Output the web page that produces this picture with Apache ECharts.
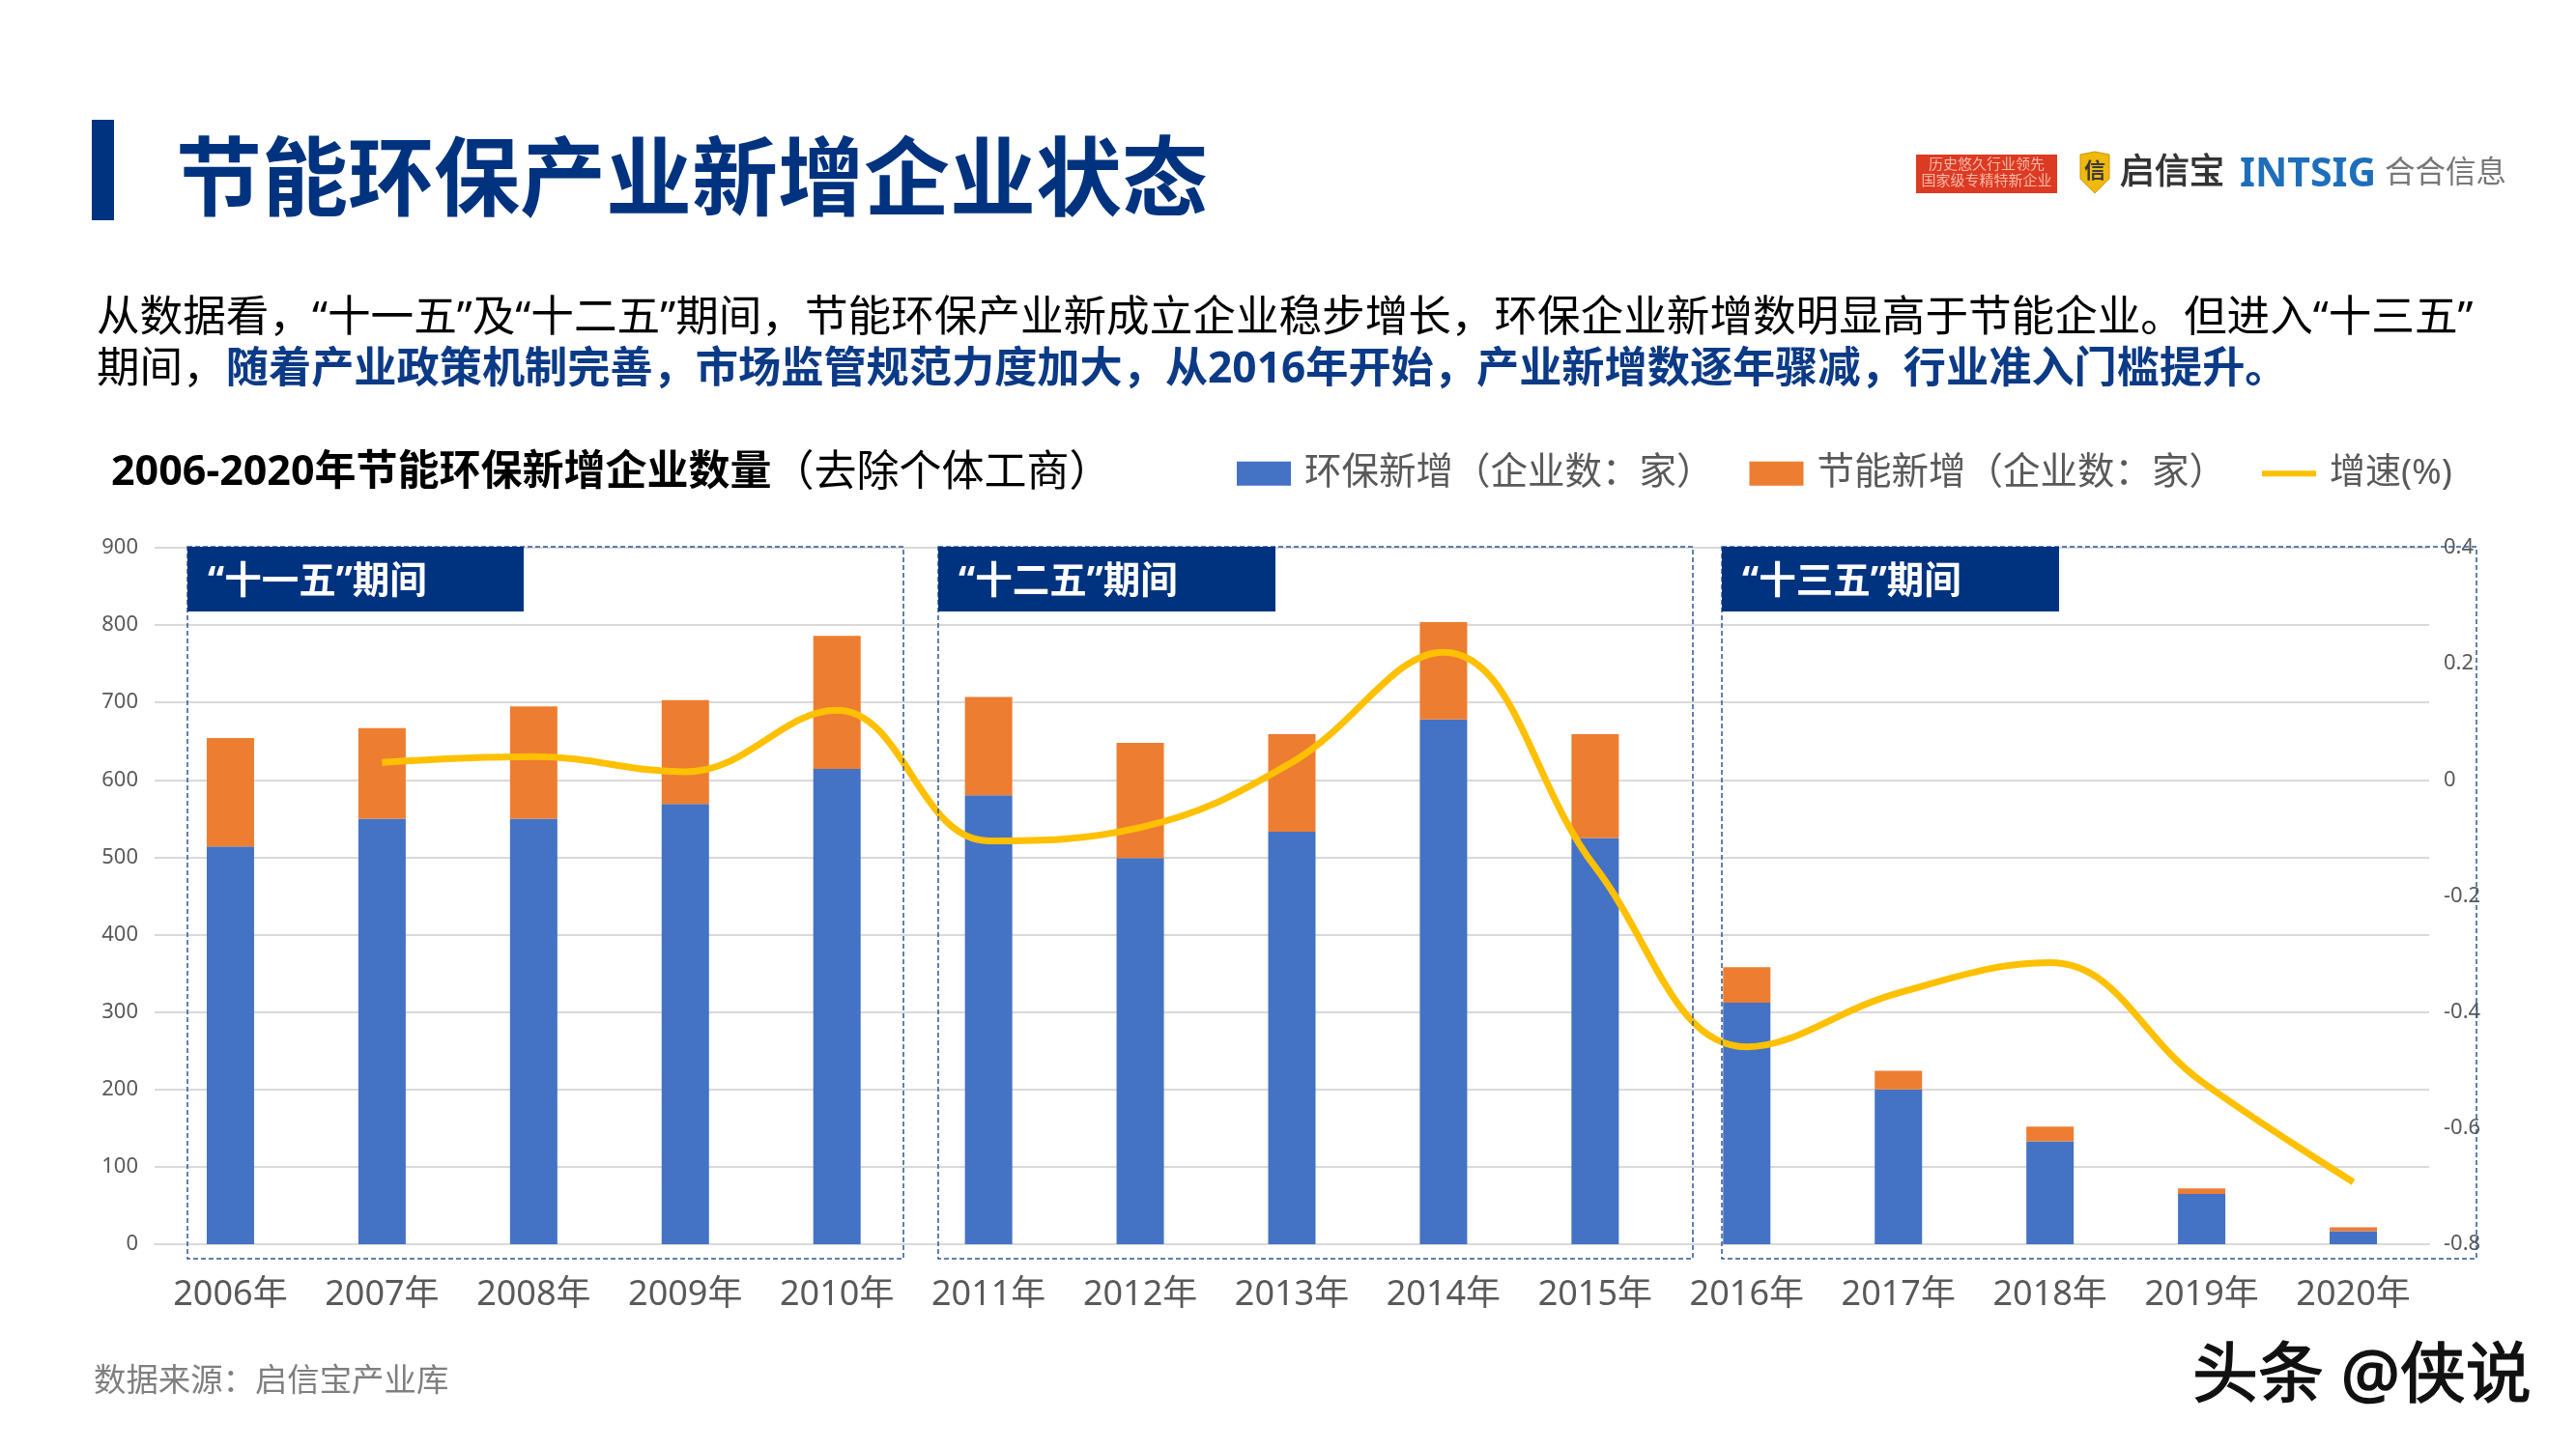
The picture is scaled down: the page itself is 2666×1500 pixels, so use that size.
<!DOCTYPE html>
<html>
<head>
<meta charset="utf-8">
<style>
  html, body { margin: 0; padding: 0; background: #fff; }
  #chart { width: 2666px; height: 1500px; }
</style>
<script src="https://cdn.jsdelivr.net/npm/echarts@6/dist/echarts.min.js"></script>
</head>
<body>
<div id="chart"></div>
<script>
const years = ['2006年', '2007年', '2008年', '2009年', '2010年', '2011年', '2012年', '2013年', '2014年', '2015年', '2016年', '2017年', '2018年', '2019年', '2020年']
// 环保新增（企业数：家）
const envAdded = [514, 550, 550, 569, 614, 580, 499, 533, 678, 525, 312, 200, 133, 65, 17]
// 节能新增（企业数：家）
const energyAdded = [140, 117, 145, 134, 172, 127, 149, 126, 126, 134, 46, 24, 19, 7, 5]
// 增速(%)
const growth = [null, 0.03, 0.04, 0.014, 0.12, -0.105, -0.082, 0.03, 0.22, -0.15, -0.46, -0.367, -0.315, -0.52, -0.693]
const periodLabels = ['“十一五”期间', '“十二五”期间', '“十三五”期间']

const FONT = '"Noto Sans", "Noto Sans CJK SC", sans-serif'
const NAVY = '#00337F'
const GRID_GRAY = '#D9D9D9'

const text = (x, y, style) => ({
  type: 'text',
  x,
  y,
  silent: true,
  z: 20,
  style: { fontFamily: FONT, verticalAlign: 'middle', ...style }
})

// 虚线框 + 标题块
const periodFrame = (x, width, labelWidth, label) => [
  {
    type: 'rect',
    silent: true,
    z: 15,
    shape: { x, y: 566, width, height: 737 },
    style: { fill: 'none', stroke: '#2F5597', lineWidth: 1.5, lineDash: [5, 3] }
  },
  {
    type: 'rect',
    silent: true,
    z: 16,
    shape: { x, y: 566, width: labelWidth, height: 67 },
    style: { fill: NAVY }
  },
  text(x + 21, 603, { text: label, fill: '#fff', fontSize: 38.5, fontWeight: 'bold' })
]

const graphic = [
  // 标题
  { type: 'rect', silent: true, shape: { x: 95, y: 124, width: 23, height: 104 }, style: { fill: NAVY } },
  text(182, 191, { text: '节能环保产业新增企业状态', fill: NAVY, fontSize: 89, fontWeight: 'bold' }),
  // logo
  { type: 'rect', silent: true, shape: { x: 1983, y: 160, width: 146, height: 40 }, style: { fill: '#DC3A22' } },
  text(2056, 171, { text: '历史悠久行业领先', fill: '#F6B9A8', fontSize: 15, align: 'center' }),
  text(2056, 188, { text: '国家级专精特新企业', fill: '#F6B9A8', fontSize: 15, align: 'center' }),
  {
    type: 'polygon',
    silent: true,
    shape: { points: [[2153, 160], [2168, 157], [2183, 160], [2183, 185], [2168, 200], [2153, 185]] },
    style: { fill: '#F0B90B', stroke: '#C99A08', lineWidth: 1 }
  },
  text(2168, 178, { text: '信', fill: '#3a3a3a', fontSize: 22, align: 'center', fontWeight: 'bold' }),
  text(2194, 180, { text: '启信宝', fill: '#333', fontSize: 36, stroke: '#333', lineWidth: 1 }),
  text(2318, 181, { text: 'INTSIG', fill: '#1E6FBA', fontSize: 41, fontWeight: 'bold' }),
  text(2468, 180, { text: '合合信息', fill: '#777', fontSize: 31.5 }),
  // 正文
  text(100, 330, {
    text: '从数据看，“十一五”及“十二五”期间，节能环保产业新成立企业稳步增长，环保企业新增数明显高于节能企业。但进入“十三五”',
    fill: '#000',
    fontSize: 44.6
  }),
  text(100, 383, {
    text: '期间，{b|随着产业政策机制完善，市场监管规范力度加大，从2016年开始，产业新增数逐年骤减，行业准入门槛提升。}',
    fill: '#000',
    fontSize: 44.6,
    rich: { b: { fontFamily: FONT, fontSize: 44.2, fontWeight: 'bold', fill: '#0B3A86' } }
  }),
  // 图表标题
  text(115, 490, {
    text: '{b|2006-2020年节能环保新增企业数量}（去除个体工商）',
    fill: '#000',
    fontSize: 44,
    rich: { b: { fontFamily: FONT, fontSize: 43, fontWeight: 'bold', fill: '#000' } }
  }),
  // 数据来源、水印
  text(97, 1430, { text: '数据来源：启信宝产业库', fill: '#7F7F7F', fontSize: 33.4 }),
  text(2269, 1427, { text: '头条 @侠说', fill: '#111', fontSize: 68, stroke: '#111', lineWidth: 1.5 }),
  ...periodFrame(194, 741, 348, periodLabels[0]),
  ...periodFrame(971, 781, 349, periodLabels[1]),
  ...periodFrame(1782, 781, 349, periodLabels[2])
]

const myChart = echarts.init(document.getElementById('chart'))
myChart.setOption({
  animation: false,
  backgroundColor: '#fff',
  textStyle: { fontFamily: FONT },
  grid: { left: 160, right: 152, top: 567, bottom: 212 },
  legend: {
    left: 1275,
    top: 466,
    itemWidth: 56,
    itemHeight: 25,
    itemGap: 37,
    textStyle: { fontSize: 38.5, color: '#595959', fontFamily: FONT, padding: [0, 0, 0, 9] },
    data: [
      { name: '环保新增（企业数：家）', icon: 'rect' },
      { name: '节能新增（企业数：家）', icon: 'rect' },
      { name: '增速(%)', icon: 'path://M0 0H56V6H0Z', textStyle: { fontSize: 37 } }
    ]
  },
  xAxis: {
    type: 'category',
    data: years,
    axisTick: { show: false },
    axisLine: { lineStyle: { color: GRID_GRAY, width: 2 } },
    axisLabel: { color: '#595959', fontSize: 36, margin: 35, interval: 0 }
  },
  yAxis: [
    {
      type: 'value',
      min: 0,
      max: 900,
      interval: 100,
      axisLine: { show: false },
      axisTick: { show: false },
      splitLine: { lineStyle: { color: GRID_GRAY, width: 2 } },
      axisLabel: { color: '#595959', fontSize: 22, margin: 17 }
    },
    {
      type: 'value',
      min: -0.8,
      max: 0.4,
      interval: 0.2,
      axisLine: { show: false },
      axisTick: { show: false },
      splitLine: { show: false },
      axisLabel: { color: '#595959', fontSize: 22, margin: 15 }
    }
  ],
  series: [
    {
      name: '环保新增（企业数：家）',
      type: 'bar',
      stack: 'total',
      barWidth: 49,
      itemStyle: { color: '#4472C4' },
      data: envAdded
    },
    {
      name: '节能新增（企业数：家）',
      type: 'bar',
      stack: 'total',
      barWidth: 49,
      itemStyle: { color: '#ED7D31' },
      data: energyAdded
    },
    {
      name: '增速(%)',
      type: 'line',
      yAxisIndex: 1,
      smooth: 0.4,
      symbol: 'none',
      lineStyle: { color: '#FFC000', width: 7 },
      itemStyle: { color: '#FFC000' },
      z: 10,
      data: growth
    }
  ],
  graphic
})
</script>
</body>
</html>
